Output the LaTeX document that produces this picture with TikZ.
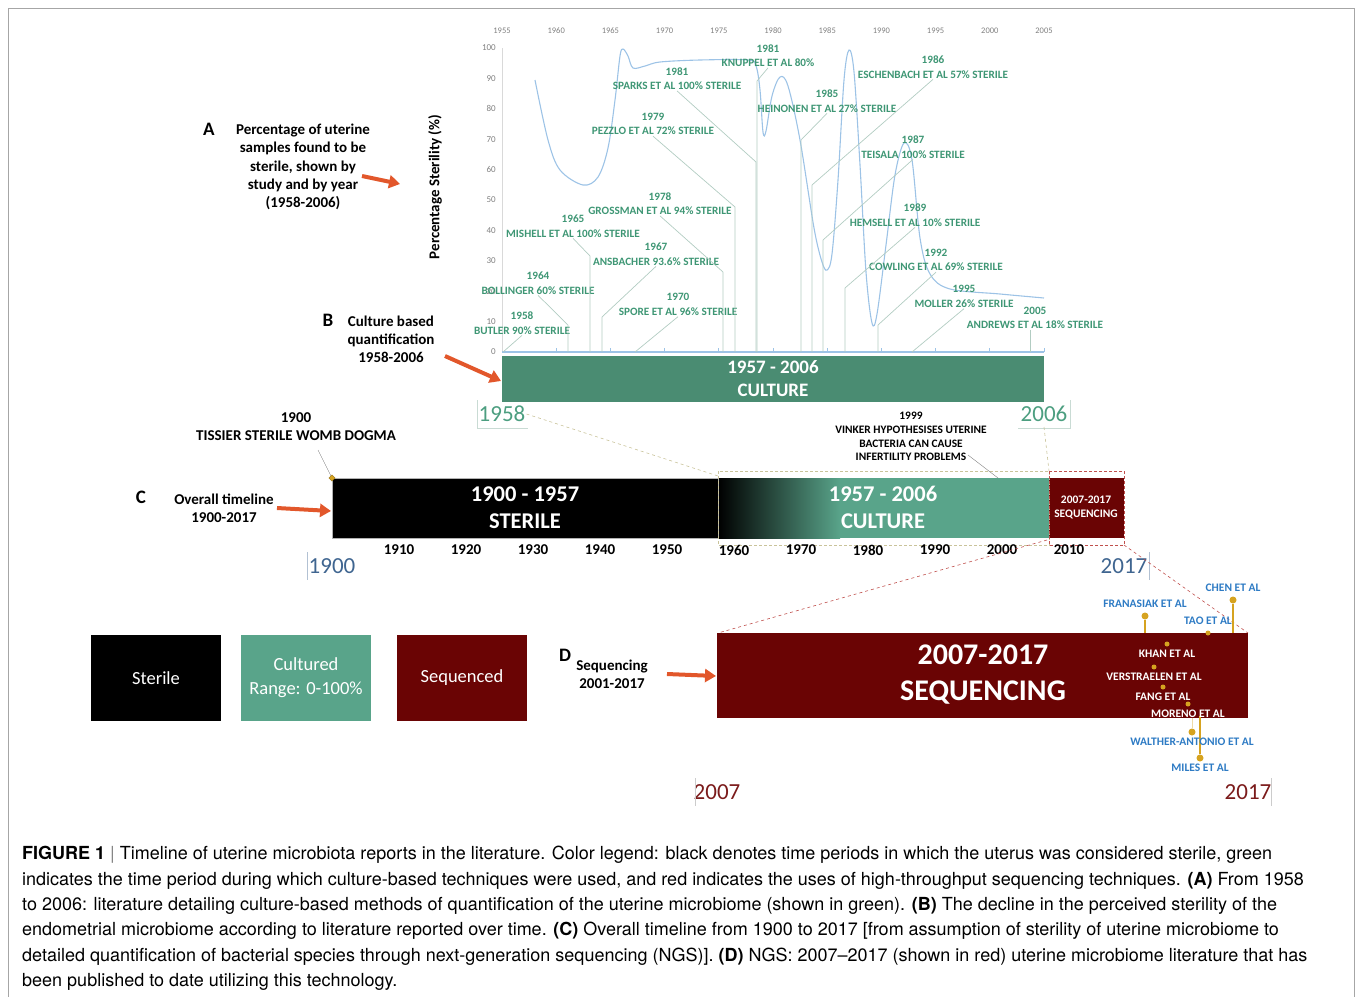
\documentclass[tikz,border=0pt]{standalone}
\usepackage{fontspec}
\setmainfont{Carlito}
\newfontfamily\capfont[Ligatures=TeX]{TeX Gyre Heros}
\usetikzlibrary{arrows.meta,positioning,shapes.geometric}
\definecolor{labgreen}{RGB}{62,150,116}
\definecolor{leadgray}{RGB}{178,204,194}
\definecolor{curveblue}{RGB}{157,195,230}
\definecolor{bandgreen}{RGB}{74,140,114}
\definecolor{bargreen}{RGB}{89,164,138}
\definecolor{seqred}{RGB}{106,4,4}
\definecolor{arrorange}{RGB}{226,87,43}
\definecolor{pingold}{RGB}{214,163,32}
\definecolor{namblue}{RGB}{46,123,196}
\definecolor{yrblue}{RGB}{63,101,144}
\definecolor{yrgreen}{RGB}{76,158,128}
\definecolor{yrred}{RGB}{123,27,27}
\definecolor{zoomtan}{RGB}{201,195,154}
\definecolor{zoomred}{RGB}{192,80,77}

\begin{document}
\begin{tikzpicture}[x=1pt,y=-1pt,
    every node/.style={inner sep=1pt},
    study/.style={text=labgreen,font=\bfseries\fontsize{11.2}{14.5}\selectfont,align=center},
    leader/.style={draw=leadgray,line width=.7pt},
    side/.style={font=\bfseries\fontsize{15}{18.2}\selectfont,align=center},
    letter/.style={font=\bfseries\fontsize{19}{19}\selectfont},
    pointer/.style={draw=arrorange,line width=4pt,-{Triangle[length=11pt,width=13pt]}},
    bartext/.style={text=white,font=\bfseries\fontsize{22.5}{27}\selectfont,align=center},
    tick/.style={font=\bfseries\fontsize{15}{15}\selectfont},
    yrbox/.style={font=\fontsize{23}{23}\selectfont},
    legbox/.style={minimum width=130pt,minimum height=86pt,text=white,
      font=\fontsize{18.5}{24}\selectfont,align=center},
    seqname/.style={text=white,font=\bfseries\fontsize{11.5}{11.5}\selectfont},
    outname/.style={text=namblue,font=\bfseries\fontsize{11.5}{11.5}\selectfont},
    dot/.style={circle,fill=pingold,inner sep=0pt,minimum size=#1},
    dot/.default=5pt,
    caption/.style={font=\capfont\fontsize{18}{25.4}\selectfont,align=left}]
  \useasboundingbox (0,0) rectangle (1357,996);
  \draw[gray!70] (8.5,8.5) rectangle (1354.5,1010);

  % chart A: axes
  \foreach \i in {0,...,10} {
    \pgfmathtruncatemacro{\yr}{1955+5*\i}
    \node[text=gray,font=\fontsize{8.5}{8.5}\selectfont] at (502+\i*54.2,31) {\yr};
  }
  \foreach \v in {0,10,...,100}
    \node[anchor=east,text=gray,font=\fontsize{9}{9}\selectfont] at (497,352-3.04*\v) {\v};
  \draw[gray!30] (502,48) -- (502,352);
  \node[rotate=90,font=\bfseries\fontsize{15}{15}\selectfont] (ylab) at (435,187) {Percentage Sterility (\%)};
  \draw[curveblue,line width=1.2pt] (502,352) -- (1044,352);
  \foreach \i in {1,...,10}
    \draw[curveblue,line width=.8pt] (502+\i*54.2,352) -- ++(0,-4);
  \draw[curveblue,line width=1.1pt] plot[smooth,tension=0.55] coordinates {
    (535,80) (548,140) (560,170) (583,185) (598,177) (608,148) (615,100) (620,56)
    (623,49) (628,56) (633,68) (645,66) (660,62) (700,60) (748,60) (756,66)
    (760,90) (763,132) (766,131) (772,96) (780,77) (788,86) (800,140) (814,228)
    (822,262) (827,270) (832,254) (838,180) (844,80) (849,50) (854,72) (860,165)
    (866,272) (872,323) (877,314) (886,245) (895,175) (904,143) (912,160) (920,238)
    (930,274) (950,289) (1000,294) (1044,298)};

  % chart A: studies
  \foreach \nm/\x/\y/\yr/\who in {
      butler/522/323/1958/BUTLER 90\% STERILE,
      bollinger/538/283/1964/BOLLINGER 60\% STERILE,
      mishell/573/226/1965/MISHELL ET AL 100\% STERILE,
      ansbacher/656/254/1967/ANSBACHER 93.6\% STERILE,
      spore/678/304.5/1970/SPORE ET AL 96\% STERILE,
      grossman/660/203.5/1978/GROSSMAN ET AL 94\% STERILE,
      pezzlo/653/124/1979/PEZZLO ET AL 72\% STERILE,
      sparks/677/78.5/1981/SPARKS ET AL 100\% STERILE,
      knuppel/768/55.5/1981/KNUPPEL ET AL 80\%,
      heinonen/827/101/1985/HEINONEN ET AL 27\% STERILE,
      eschenbach/933/67/1986/ESCHENBACH ET AL 57\% STERILE,
      teisala/913/147/1987/TEISALA 100\% STERILE,
      hemsell/915/215/1989/HEMSELL ET AL 10\% STERILE,
      cowling/936/260/1992/COWLING ET AL 69\% STERILE,
      moller/964/296.5/1995/MOLLER 26\% STERILE,
      andrews/1035/318/2005/ANDREWS ET AL 18\% STERILE}
    \node[study] (\nm) at (\x,\y) {\yr\\\who};
  \draw[leader] (butler.south) -- (503,352);
  \draw[leader] (bollinger.south) -- (568,325) -- (568,352);
  \draw[leader] (mishell.south) -- (590,256) -- (590,352);
  \draw[leader] (ansbacher.south) -- (602,317) -- (602,352);
  \draw[leader] (spore.south) -- (635,352);
  \draw[leader] (grossman.south) -- (723,272) -- (723,352);
  \draw[leader] (pezzlo.south) -- (735,207) -- (735,352);
  \draw[leader] (sparks.south) -- (756,162) -- (756,352);
  \draw[leader] (knuppel.south) -- (757,81) -- (757,352);
  \draw[leader] (heinonen.south) -- (801,140) -- (801,352);
  \draw[leader] (eschenbach.south) -- (812,185) -- (812,352);
  \draw[leader] (teisala.south) -- (823,240) -- (823,352);
  \draw[leader] (hemsell.south) -- (845,288) -- (845,352);
  \draw[leader] (cowling.south) -- (878,325) -- (878,352);
  \draw[leader] (moller.south) -- (912,352);
  \draw[leader] ([xshift=-5pt]andrews.south) -- (1030,352);

  % B: culture band
  \node[fill=bandgreen,minimum width=542pt,minimum height=46pt,
    text=white,font=\bfseries\fontsize{19}{23}\selectfont,align=center] (band) at (773,379) {1957 - 2006\\CULTURE};
  \node[yrbox,text=yrgreen] (y1958) at (502,414) {1958};
  \node[yrbox,text=yrgreen] (y2006) at (1044,414) {2006};
  \draw[leadgray!70] (477,400) |- (528,428);
  \draw[leadgray!70] (1070,400) |- (1018,428);

  % C: overall timeline
  \fill[black] (332,478) rectangle (718,538);
  \shade[left color=black,right color=bargreen] (718,478) rectangle (840,538);
  \fill[bargreen] (839.5,478) rectangle (1049,538);
  \fill[seqred] (1049,478) rectangle (1124,538);
  \draw[gray!60,line width=.6pt] (332,478) rectangle (718,538);
  \draw[zoomtan,densely dashed,line width=.6pt] (718,471) rectangle (1049,545);
  \draw[zoomred,densely dashed,line width=.6pt] (1049,471) rectangle (1124,545);
  \node[bartext] (sterile) at (525,507.5) {1900 - 1957\\STERILE};
  \node[bartext] (culture) at (883,507.5) {1957 - 2006\\CULTURE};
  \node[text=white,font=\bfseries\fontsize{11.5}{14}\selectfont,align=center] (seqc) at (1086,507) {2007-2017\\SEQUENCING};
  \foreach \yr [count=\i from 0] in {1910,1920,1930,1940,1950,1960,1970,1980,1990,2000,2010}
    \node[tick] at (399+\i*67,550) {\yr};
  \node[yrbox,text=yrblue] (y1900) at (332,566) {1900};
  \node[yrbox,text=yrblue] (y2017c) at (1124,566) {2017};
  \draw[yrblue!40] (307,552) -- (307,580);
  \draw[yrblue!40] (1149,552) -- (1149,580);

  % zoom connectors
  \draw[zoomtan,dashed,line width=.6pt] (y1958.east) -- (718,476);
  \draw[zoomtan,dashed,line width=.6pt] (1044,427) -- (1049,471);
  \draw[zoomred,dashed,line width=.6pt] (1047,540) -- (718,633);
  \draw[zoomred,dashed,line width=.6pt] (1124,545) -- (1248,633);

  % events on timeline
  \node[side] (tissier) at (296,426.5) {1900\\TISSIER STERILE WOMB DOGMA};
  \node[diamond,fill=pingold,draw=pingold!70!black,inner sep=1.6pt] (dogma) at (332,478) {};
  \draw[gray] (318,450) -- (dogma);
  \node[font=\bfseries\fontsize{11.4}{13.6}\selectfont,align=center] (vinker) at (911,436.5)
    {1999\\VINKER HYPOTHESISES UTERINE\\BACTERIA CAN CAUSE\\INFERTILITY PROBLEMS};
  \coordinate (vinkerpin) at (998,478);
  \draw[gray] (968,455) -- (vinkerpin);

  % side labels
  \node[letter] (la) at (209,129) {A};
  \node[side] (ta) at (303,167) {Percentage of uterine\\samples found to be\\sterile, shown by\\study and by year\\(1958-2006)};
  \node[letter] (lb) at (328,320) {B};
  \node[side] (tb) at (391,339) {Culture based\\quantification\\1958-2006};
  \node[letter] (lc) at (141,497) {C};
  \node[side] (tc) at (224,508) {Overall timeline\\1900-2017};
  \node[letter] (ld) at (565,655) {D};
  \node[side] (td) at (612,674) {Sequencing\\2001-2017};
  \draw[pointer] (362,176) -- (400,184);
  \draw[pointer] (445,356) -- (501,381);
  \draw[pointer] (277,508) -- (331,511);
  \draw[pointer] (667,674) -- (716,676);

  % legend
  \node[legbox,fill=black] (legsterile) at (156,678) {Sterile};
  \node[legbox,fill=bargreen] (legcult) at (306,678) {Cultured\\Range: 0-100\%};
  \node[legbox,fill=seqred] (legseq) at (462,678) {Sequenced};

  % D: sequencing
  \node[fill=seqred,minimum width=531pt,minimum height=85pt] (seqbox) at (982.5,675.5) {};
  \node[text=white,font=\bfseries\fontsize{30}{36}\selectfont,align=center] (seqtext) at (983,675) {2007-2017\\SEQUENCING};
  \node[dot=7pt] (pfran) at (1145,616) {};
  \node[dot=7pt] (pchen) at (1233,600) {};
  \node[dot] (ptao) at (1208,633) {};
  \node[dot] (pkhan) at (1167,644) {};
  \node[dot] (pvers) at (1154,667) {};
  \node[dot] (pfang) at (1163,687) {};
  \node[dot] (pmor) at (1188,704) {};
  \node[dot=7pt] (pwalt) at (1192,732) {};
  \node[dot=7pt] (pmiles) at (1200,758) {};
  \draw[pingold,line width=1.6pt] (pfran) -- (pfran |- seqbox.north);
  \draw[pingold,line width=1.6pt] (pchen) -- (pchen |- seqbox.north);
  \draw[pingold!40,line width=.8pt] (pwalt) -- (pwalt |- seqbox.south);
  \draw[pingold,line width=1.6pt] (pmiles) -- (1200,716);
  \node[outname] (nfran) at (1145,603.5) {FRANASIAK ET AL};
  \node[outname] (nchen) at (1233,588) {CHEN ET AL};
  \node[outname] (ntao) at (1208,621) {TAO ET AL};
  \node[seqname] (nkhan) at (1167,654) {KHAN ET AL};
  \node[seqname] (nvers) at (1154,677) {VERSTRAELEN ET AL};
  \node[seqname] (nfang) at (1163,697) {FANG ET AL};
  \node[seqname] (nmor) at (1188,713.5) {MORENO ET AL};
  \node[outname] (nwalt) at (1192,742) {WALTHER-ANTONIO ET AL};
  \node[outname] (nmiles) at (1200,767.5) {MILES ET AL};
  \node[yrbox,text=yrred] (y2007) at (717,792) {2007};
  \node[yrbox,text=yrred] (y2017d) at (1248,792) {2017};
  \draw[gray!40] (695,778) -- (695,806);
  \draw[gray!40] (1271,778) -- (1271,806);

  % caption
  \node[caption,anchor=north west] (cap) at (21,845) {%
    \textbf{FIGURE 1} {\color{gray}|} Timeline of uterine microbiota reports in the literature. Color legend: black denotes time periods in which the uterus was considered sterile, green\\
    indicates the time period during which culture-based techniques were used, and red indicates the uses of high-throughput sequencing techniques. \textbf{(A)} From 1958\\
    to 2006: literature detailing culture-based methods of quantification of the uterine microbiome (shown in green). \textbf{(B)} The decline in the perceived sterility of the\\
    endometrial microbiome according to literature reported over time. \textbf{(C)} Overall timeline from 1900 to 2017 [from assumption of sterility of uterine microbiome to\\
    detailed quantification of bacterial species through next-generation sequencing (NGS)]. \textbf{(D)} NGS: 2007–2017 (shown in red) uterine microbiome literature that has\\
    been published to date utilizing this technology.};
\end{tikzpicture}
\end{document}
